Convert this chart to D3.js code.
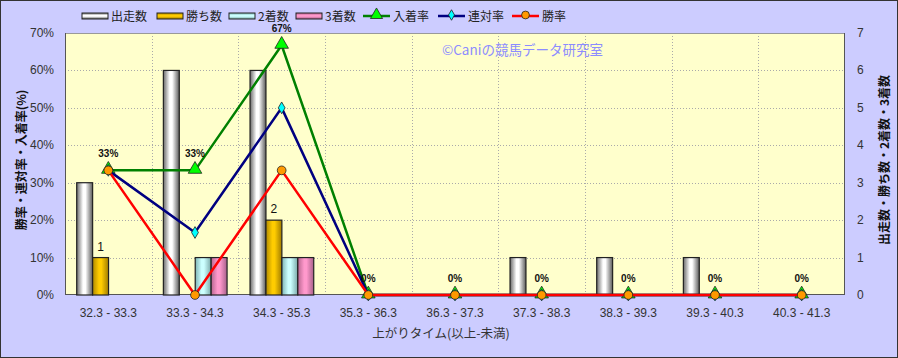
<!DOCTYPE html>
<html>
<head>
<meta charset="utf-8">
<script src="https://cdn.jsdelivr.net/npm/d3@7"></script>
<style>
  body { margin: 0; background: #fff; }
  svg { display: block; }
  text { font-family: "Liberation Sans Narrow", "Liberation Sans", "Noto Sans CJK JP", sans-serif; }
  .jp { font-family: "Noto Sans CJK JP", sans-serif; }
</style>
</head>
<body>
<div id="chart"></div>
<script>
// Data
const categories = ["32.3 - 33.3", "33.3 - 34.3", "34.3 - 35.3", "35.3 - 36.3", "36.3 - 37.3",
                    "37.3 - 38.3", "38.3 - 39.3", "39.3 - 40.3", "40.3 - 41.3"];
const runs   = [3, 6, 6, 0, 0, 1, 1, 1, 0];   // 出走数
const wins   = [1, 0, 2, 0, 0, 0, 0, 0, 0];   // 勝ち数
const second = [0, 1, 1, 0, 0, 0, 0, 0, 0];   // 2着数
const third  = [0, 1, 1, 0, 0, 0, 0, 0, 0];   // 3着数
const showRate  = [33.3, 33.3, 66.7, 0, 0, 0, 0, 0, 0]; // 入着率
const placeRate = [33.3, 16.7, 50, 0, 0, 0, 0, 0, 0];   // 連対率
const winRate   = [33.3, 0, 33.3, 0, 0, 0, 0, 0, 0];    // 勝率
const leftTicks  = [0, 10, 20, 30, 40, 50, 60, 70];
const rightTicks = [0, 1, 2, 3, 4, 5, 6, 7];

const ctx = {
  W: 898, H: 358,
  left: 65, right: 845, top: 33, bottom: 295
};

const barSeries = [
  { name: "出走数", values: runs,   id: "gWhite", c: ["#6a6a6a", "#ffffff", "#ffffff", "#5a5a5a"] },
  { name: "勝ち数", values: wins,   id: "gGold",  c: ["#b08a00", "#ffcc00", "#ffcc00", "#a07c00"] },
  { name: "2着数", values: second, id: "gCyan",  c: ["#7fb5b5", "#ccffff", "#ccffff", "#7aa8a8"] },
  { name: "3着数", values: third,  id: "gPink",  c: ["#b86690", "#ff99cc", "#ff99cc", "#a8608a"] }
];
const lineSeries = [
  { name: "入着率", values: showRate,  stroke: "#008000", fill: "#00ff00", shape: d3.symbolTriangle, size: 80 },
  { name: "連対率", values: placeRate, stroke: "#000080", fill: "#00ffff", shape: d3.symbolDiamond, size: 40 },
  { name: "勝率",   values: winRate,   stroke: "#ff0000", fill: "#ff9900", shape: d3.symbolCircle, size: 60 }
];

const svg = d3.select("#chart").append("svg")
  .attr("width", ctx.W).attr("height", ctx.H);

// gradients for the cylinder-look bars
const defs = svg.append("defs");
barSeries.forEach(s => {
  const g = defs.append("linearGradient").attr("id", s.id)
    .attr("x1", "0%").attr("x2", "100%").attr("y1", "0%").attr("y2", "0%");
  [0, 0.4, 0.55, 1].forEach((o, i) => g.append("stop").attr("offset", o).attr("stop-color", s.c[i]));
  const gv = defs.append("linearGradient").attr("id", s.id + "v")
    .attr("x1", "0%").attr("x2", "0%").attr("y1", "0%").attr("y2", "100%");
  [0, 0.4, 0.55, 1].forEach((o, i) => gv.append("stop").attr("offset", o).attr("stop-color", s.c[i]));
});

// background + border
svg.append("rect").attr("x", 0.5).attr("y", 0.5).attr("width", ctx.W - 1).attr("height", ctx.H - 1)
  .attr("fill", "#ccccff").attr("stroke", "#333").attr("stroke-width", 1);
svg.append("rect").attr("x", ctx.left).attr("y", ctx.top)
  .attr("width", ctx.right - ctx.left).attr("height", ctx.bottom - ctx.top)
  .attr("fill", "#ffffcc");

// scales
const x = d3.scaleBand().domain(categories).range([ctx.left, ctx.right]);
const bw = x.bandwidth();
const xs = d3.scaleBand().domain(barSeries.map(s => s.name)).range([bw * 0.135, bw * 0.87]);
const yL = d3.scaleLinear().domain([0, 70]).range([ctx.bottom, ctx.top]);
const yR = d3.scaleLinear().domain([0, 7]).range([ctx.bottom, ctx.top]);

// gridlines
const grid = svg.append("g").attr("stroke", "#aaa").attr("stroke-dasharray", "1,2").attr("stroke-width", 1);
leftTicks.slice(1, -1).forEach(t => {
  grid.append("line").attr("x1", ctx.left).attr("x2", ctx.right)
    .attr("y1", Math.round(yL(t)) + 0.5).attr("y2", Math.round(yL(t)) + 0.5);
});
categories.slice(1).forEach(c => {
  grid.append("line").attr("y1", ctx.top).attr("y2", ctx.bottom)
    .attr("x1", Math.round(x(c)) + 0.5).attr("x2", Math.round(x(c)) + 0.5);
});

// plot frame
svg.append("rect").attr("x", ctx.left + 0.5).attr("y", ctx.top + 0.5)
  .attr("width", ctx.right - ctx.left - 1).attr("height", ctx.bottom - ctx.top - 1)
  .attr("fill", "none").attr("stroke", "#999");
svg.append("line").attr("x1", ctx.left + 0.5).attr("x2", ctx.left + 0.5)
  .attr("y1", ctx.top).attr("y2", ctx.bottom).attr("stroke", "#555");
svg.append("line").attr("x1", ctx.right - 0.5).attr("x2", ctx.right - 0.5)
  .attr("y1", ctx.top).attr("y2", ctx.bottom).attr("stroke", "#555");
svg.append("line").attr("x1", ctx.left).attr("x2", ctx.right)
  .attr("y1", ctx.bottom - 0.5).attr("y2", ctx.bottom - 0.5).attr("stroke", "#555");

// watermark
svg.append("text").attr("class", "jp").attr("x", 442).attr("y", 55)
  .attr("font-size", 13.5).attr("fill", "#8c8cff").text("©Caniの競馬データ研究室");

// bars
barSeries.forEach(s => {
  svg.append("g").selectAll("rect")
    .data(categories.map((c, i) => ({ c, v: s.values[i] })).filter(d => d.v > 0))
    .join("rect")
    .attr("x", d => x(d.c) + xs(s.name))
    .attr("width", xs.bandwidth())
    .attr("y", d => yR(d.v))
    .attr("height", d => yR(0) - yR(d.v))
    .attr("fill", `url(#${s.id})`)
    .attr("stroke", "#222").attr("stroke-width", 1.2);
});

// 勝ち数 labels
svg.append("g").selectAll("text")
  .data(categories.map((c, i) => ({ c, v: wins[i] })).filter(d => d.v > 0))
  .join("text")
  .attr("x", d => x(d.c) + xs("勝ち数") + xs.bandwidth() / 2)
  .attr("y", d => yR(d.v) - 7)
  .attr("text-anchor", "middle").attr("font-size", 12).attr("fill", "#111")
  .text(d => d.v);

// lines
const cx = c => x(c) + bw / 2;
lineSeries.forEach(s => {
  const pts = categories.map((c, i) => ({ c, v: s.values[i] }));
  svg.append("path").datum(pts)
    .attr("d", d3.line().x(d => cx(d.c)).y(d => yL(d.v)))
    .attr("fill", "none").attr("stroke", s.stroke).attr("stroke-width", 2.5);
  svg.append("g").selectAll("path").data(pts).join("path")
    .attr("transform", d => `translate(${cx(d.c)},${yL(d.v) - (s.shape === d3.symbolTriangle ? 1 : 0)})`)
    .attr("d", d3.symbol().type(s.shape).size(s.size))
    .attr("fill", s.fill).attr("stroke", "#222").attr("stroke-width", 0.8);
});

// 入着率 labels
svg.append("g").selectAll("text")
  .data(categories.map((c, i) => ({ c, v: showRate[i] })))
  .join("text")
  .attr("x", d => cx(d.c))
  .attr("y", d => yL(d.v) - 13)
  .attr("text-anchor", "middle").attr("font-size", 10).attr("font-weight", "bold")
  .attr("font-family", "Liberation Sans, sans-serif").attr("fill", "#111")
  .text(d => Math.round(d.v) + "%");

// axes labels
svg.append("g").selectAll("text").data(leftTicks).join("text")
  .attr("x", 54).attr("y", d => yL(d) + 4)
  .attr("text-anchor", "end").attr("font-size", 12).attr("fill", "#333")
  .text(d => d + "%");
svg.append("g").selectAll("text").data(rightTicks).join("text")
  .attr("x", 857).attr("y", d => yR(d) + 4)
  .attr("font-size", 12).attr("fill", "#333")
  .text(d => d);
svg.append("g").selectAll("text").data(categories).join("text")
  .attr("x", d => cx(d)).attr("y", 317)
  .attr("text-anchor", "middle").attr("font-size", 12).attr("fill", "#333")
  .text(d => d);

// titles
svg.append("text").attr("class", "jp")
  .attr("transform", "translate(26,160) rotate(-90)")
  .attr("text-anchor", "middle").attr("font-size", 12).attr("font-weight", "bold").attr("fill", "#111")
  .text("勝率・連対率・入着率(%)");
svg.append("text").attr("class", "jp")
  .attr("transform", "translate(889,160) rotate(-90)")
  .attr("text-anchor", "middle").attr("font-size", 12).attr("font-weight", "bold").attr("fill", "#111")
  .text("出走数・勝ち数・2着数・3着数");
svg.append("text").attr("class", "jp")
  .attr("x", 441).attr("y", 338)
  .attr("text-anchor", "middle").attr("font-size", 12.5).attr("fill", "#333")
  .text("上がりタイム(以上-未満)");

// legend
const legendX = [82, 157, 229, 296, 363, 438, 512];
const legend = svg.append("g");
barSeries.forEach((s, i) => {
  const g = legend.append("g").attr("transform", `translate(${legendX[i]},16)`);
  g.append("rect").attr("x", 0).attr("y", -3).attr("width", 26).attr("height", 6)
    .attr("fill", `url(#${s.id}v)`).attr("stroke", "#222").attr("stroke-width", 1);
  g.append("text").attr("class", "jp").attr("x", 29).attr("y", 5)
    .attr("font-size", 12).attr("fill", "#222").text(s.name);
});
lineSeries.forEach((s, i) => {
  const g = legend.append("g").attr("transform", `translate(${legendX[i + 4]},16)`);
  g.append("line").attr("x1", 0).attr("x2", 27).attr("stroke", s.stroke).attr("stroke-width", 2.5);
  g.append("path").attr("transform", "translate(13.5,-1)")
    .attr("d", d3.symbol().type(s.shape).size(s.size * 0.8))
    .attr("fill", s.fill).attr("stroke", "#222").attr("stroke-width", 0.8);
  g.append("text").attr("class", "jp").attr("x", 30).attr("y", 5)
    .attr("font-size", 12).attr("fill", "#222").text(s.name);
});
</script>
</body>
</html>
